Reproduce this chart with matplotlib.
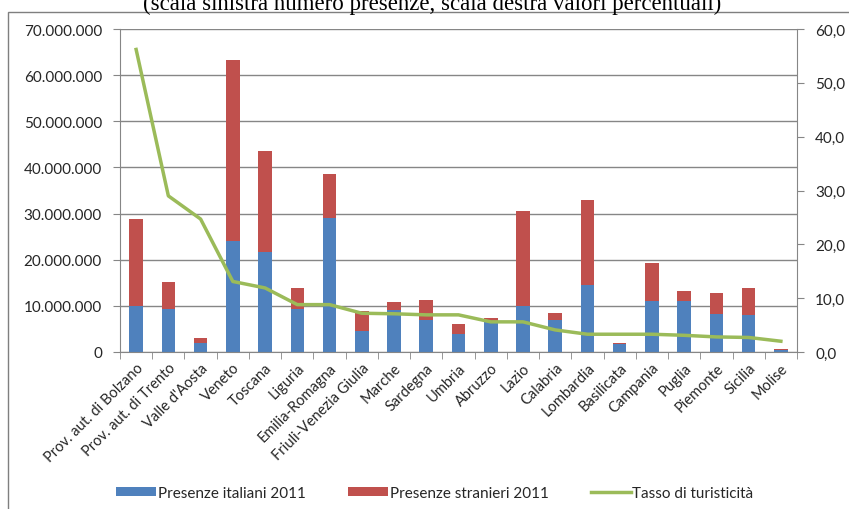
import matplotlib
matplotlib.use("Agg")
import matplotlib.pyplot as plt
from matplotlib.patches import Rectangle
from matplotlib.ticker import FuncFormatter, MultipleLocator
import numpy as np

# Dati
regioni = ["Prov. aut. di Bolzano", "Prov. aut. di Trento", "Valle d'Aosta", "Veneto",
           "Toscana", "Liguria", "Emilia-Romagna", "Friuli-Venezia Giulia", "Marche",
           "Sardegna", "Umbria", "Abruzzo", "Lazio", "Calabria", "Lombardia",
           "Basilicata", "Campania", "Puglia", "Piemonte", "Sicilia", "Molise"]
italiani = [10.0, 9.4, 2.0, 24.0, 21.6, 9.4, 29.0, 4.5, 9.0, 6.9, 4.0,
            6.7, 10.0, 6.9, 14.6, 1.8, 11.0, 11.0, 8.2, 8.1, 0.5]  # milioni
totale = [28.8, 15.2, 3.1, 63.3, 43.5, 13.9, 38.5, 8.9, 10.8, 11.3, 6.0,
          7.3, 30.6, 8.5, 33.0, 2.0, 19.3, 13.3, 12.8, 13.9, 0.65]  # milioni
tasso = [56.2, 29.0, 24.7, 13.1, 11.9, 8.8, 8.8, 7.2, 7.1, 6.9, 6.9,
         5.6, 5.6, 4.1, 3.3, 3.3, 3.3, 3.1, 2.8, 2.7, 2.0]

ita = np.array(italiani) * 1e6
stra = np.array(totale) * 1e6 - ita
x = np.arange(len(regioni))

BLU = "#4F81BD"
ROSSO = "#C0504D"
VERDE = "#9BBB59"
GRIGIO = "#868686"
TESTO = "#262626"
FONT = "Lato"

fig = plt.figure(figsize=(8.49, 5.10), dpi=100)
ax = fig.add_axes([120 / 849, 1 - 353 / 510, 677 / 849, 323 / 510])

b1 = ax.bar(x, ita, width=0.42, color=BLU, label="Presenze italiani 2011", zorder=2)
b2 = ax.bar(x, stra, width=0.42, bottom=ita, color=ROSSO, label="Presenze stranieri 2011", zorder=2)

ax.set_xlim(-0.5, len(regioni) - 0.5)
ax.set_ylim(0, 70e6)
ax.yaxis.set_major_locator(MultipleLocator(10e6))
ax.yaxis.set_major_formatter(FuncFormatter(lambda v, p: f"{int(v):,}".replace(",", ".")))
ax.grid(axis="y", color=GRIGIO, linewidth=1, zorder=0)
ax.set_axisbelow(True)

ax.set_xticks(x)
ax.set_xticklabels(regioni, rotation=45, ha="right", rotation_mode="anchor",
                   fontsize=10.5, family=FONT, color=TESTO)
ax.tick_params(axis="x", length=0, pad=6)
ax.set_xticks(np.arange(-0.5, len(regioni), 1), minor=True)
ax.tick_params(axis="x", which="minor", length=5, color=GRIGIO, direction="out")
ax.tick_params(axis="y", length=5, color=GRIGIO, labelsize=11, labelcolor=TESTO, pad=8)
for lab in ax.get_yticklabels():
    lab.set_family(FONT)

for s in ["top", "right"]:
    ax.spines[s].set_visible(False)
for s in ["left", "bottom"]:
    ax.spines[s].set_color(GRIGIO)

ax2 = ax.twinx()
l1, = ax2.plot(x, tasso, color=VERDE, linewidth=2.5, label="Tasso di turisticità", zorder=3)
ax2.set_ylim(0, 60)
ax2.yaxis.set_major_locator(MultipleLocator(10))
ax2.yaxis.set_major_formatter(FuncFormatter(lambda v, p: f"{v:.1f}".replace(".", ",")))
ax2.tick_params(axis="y", length=5, color=GRIGIO, labelsize=11, labelcolor=TESTO, pad=8)
for lab in ax2.get_yticklabels():
    lab.set_family(FONT)
for s in ["top", "left", "bottom"]:
    ax2.spines[s].set_visible(False)
ax2.spines["right"].set_color(GRIGIO)

leg = fig.legend(handles=[b1, b2, l1], loc="center", bbox_to_anchor=(435 / 849, 1 - 494 / 510),
                 ncol=3, frameon=False, prop={"family": FONT, "size": 11},
                 handlelength=2.6, handleheight=0.5, columnspacing=2.8, handletextpad=0.1)
for t in leg.get_texts():
    t.set_color(TESTO)

# cornice esterna e titolo tagliato in alto
fig.patches.append(Rectangle((8 / 849, -0.05), 1.0, 1 - 13 / 510 + 0.05,
                             transform=fig.transFigure, fill=False,
                             edgecolor="#7f7f7f", linewidth=1))
fig.text(432 / 849, 1 - 10 / 510,
         "(scala sinistra numero presenze, scala destra valori percentuali)",
         ha="center", va="baseline", family="Liberation Serif", fontsize=16.5, color="black")

fig.savefig("out.png", dpi=100)
